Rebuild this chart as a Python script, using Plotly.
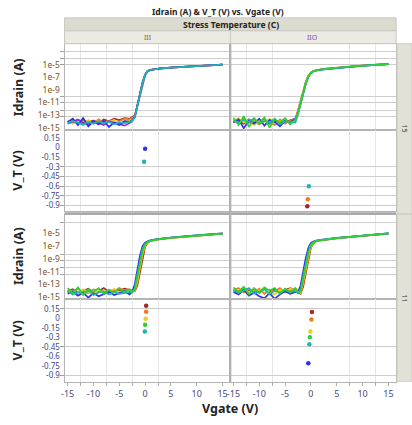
import plotly.graph_objects as go

W, H = 412, 425

# ---------------- data ----------------
vgate = [-15, -14, -13, -12, -11, -10, -9, -8, -7, -6, -5, -4, -3,
         -2.5, -2, -1.5, -1, -0.5, 0, 0.5, 1, 2, 3, 5, 8, 11, 15]

# log10(Idrain [A]), per panel / per colour
# Stress "15", temperature "III"
tl_red    = [-14.0,-14.3,-13.8,-14.2,-14.0,-13.9,-14.3,-13.7,-14.0,-13.6,-13.8,-13.5,-13.6,-13.4,-13.1,-11.6,-9.8,-8.0,-6.7,-6.05,-5.87,-5.73,-5.63,-5.49,-5.33,-5.16,-5.01]
tl_orange = [-14.2,-13.9,-14.4,-13.8,-14.1,-14.3,-13.7,-14.2,-13.9,-14.4,-14.0,-13.6,-13.7,-13.5,-13.2,-11.5,-9.7,-7.9,-6.65,-6.02,-5.86,-5.72,-5.62,-5.48,-5.32,-5.15,-5.0]
tl_yellow = [-13.9,-14.4,-14.0,-14.5,-13.8,-14.2,-14.0,-14.4,-14.1,-13.8,-14.3,-14.0,-13.9,-13.7,-13.3,-11.7,-9.8,-8.0,-6.7,-6.05,-5.88,-5.74,-5.63,-5.49,-5.33,-5.16,-5.02]
tl_purple = [-14.4,-14.1,-13.7,-14.3,-14.5,-13.9,-14.2,-14.6,-14.0,-14.2,-14.5,-14.7,-14.3,-14.0,-13.3,-11.45,-9.65,-7.9,-6.62,-6.02,-5.86,-5.72,-5.62,-5.48,-5.32,-5.15,-5.0]
tl_blue   = [-14.1,-13.6,-14.6,-13.5,-14.8,-14.0,-14.5,-13.9,-14.9,-14.2,-14.6,-14.0,-14.1,-13.8,-13.3,-11.4,-9.6,-7.85,-6.6,-6.0,-5.85,-5.71,-5.61,-5.47,-5.31,-5.14,-4.99]
tl_teal   = [-14.3,-14.0,-14.2,-14.6,-14.1,-14.4,-14.0,-14.3,-14.1,-14.5,-14.2,-14.3,-14.1,-13.9,-13.4,-11.5,-9.7,-7.9,-6.65,-6.03,-5.86,-5.72,-5.62,-5.48,-5.32,-5.15,-5.0]

# Stress "15", temperature "IIO"
tr_red    = [-14.1,-13.9,-14.4,-13.7,-14.2,-14.1,-13.7,-14.4,-13.9,-14.3,-14.1,-13.8,-13.6,-12.3,-10.7,-9.1,-7.8,-6.78,-6.27,-6.03,-5.9,-5.76,-5.66,-5.49,-5.29,-5.09,-4.91]
tr_orange = [-13.8,-14.1,-13.6,-14.3,-14.0,-14.5,-13.8,-14.2,-14.6,-13.7,-14.4,-13.9,-13.7,-12.4,-10.8,-9.2,-7.85,-6.8,-6.28,-6.04,-5.91,-5.77,-5.67,-5.5,-5.3,-5.1,-4.92]
tr_yellow = [-14.0,-13.5,-14.2,-13.8,-14.6,-13.9,-14.1,-13.6,-14.3,-14.0,-13.7,-14.4,-13.8,-12.5,-10.9,-9.3,-7.9,-6.82,-6.29,-6.05,-5.92,-5.78,-5.68,-5.5,-5.3,-5.1,-4.92]
tr_blue   = [-14.2,-13.7,-15.1,-13.9,-14.4,-13.6,-14.7,-13.8,-14.1,-14.8,-13.9,-14.2,-13.6,-12.8,-11.2,-9.6,-8.1,-6.95,-6.35,-6.08,-5.94,-5.8,-5.7,-5.52,-5.32,-5.12,-4.94]
tr_teal   = [-13.9,-14.3,-13.8,-14.1,-13.5,-14.4,-14.0,-14.2,-13.6,-14.5,-14.0,-14.1,-14.2,-12.9,-11.2,-9.6,-8.1,-6.95,-6.35,-6.08,-5.94,-5.8,-5.7,-5.52,-5.32,-5.12,-4.93]
tr_green  = [-13.5,-14.6,-13.2,-14.9,-13.6,-14.3,-13.4,-15.0,-13.7,-14.2,-13.5,-14.5,-13.7,-12.7,-11.1,-9.5,-8.05,-6.9,-6.33,-6.07,-5.93,-5.79,-5.69,-5.51,-5.31,-5.11,-4.93]

# Stress "11", temperature "III"
bl_red    = [-14.2,-13.8,-14.4,-14.0,-13.7,-14.3,-14.1,-13.6,-14.2,-13.9,-14.0,-13.7,-13.9,-14.1,-14.1,-13.2,-11.0,-8.8,-7.1,-6.5,-6.22,-6.03,-5.89,-5.71,-5.51,-5.27,-5.06]
bl_orange = [-13.9,-14.3,-13.7,-14.2,-14.4,-13.8,-14.0,-14.3,-13.9,-14.1,-13.6,-14.0,-13.8,-14.0,-14.0,-12.8,-10.6,-8.4,-6.95,-6.45,-6.2,-6.02,-5.88,-5.7,-5.5,-5.26,-5.05]
bl_yellow = [-14.4,-14.0,-14.6,-13.8,-14.2,-14.5,-13.9,-14.1,-14.4,-13.7,-14.2,-14.4,-14.1,-14.2,-14.0,-12.4,-10.2,-8.1,-6.85,-6.4,-6.18,-6.01,-5.87,-5.7,-5.5,-5.26,-5.05]
bl_blue   = [-14.5,-14.1,-14.8,-14.3,-15.1,-14.4,-14.9,-14.6,-14.2,-14.7,-14.4,-14.1,-14.6,-14.2,-13.0,-10.6,-8.5,-7.0,-6.45,-6.25,-6.1,-5.95,-5.82,-5.65,-5.45,-5.22,-5.02]
bl_teal   = [-14.1,-14.6,-14.2,-14.5,-14.0,-14.7,-14.3,-14.1,-14.6,-14.2,-14.5,-14.3,-14.2,-14.3,-13.6,-11.4,-9.2,-7.4,-6.6,-6.3,-6.13,-5.97,-5.84,-5.67,-5.47,-5.23,-5.03]
bl_green  = [-13.6,-14.4,-13.5,-14.7,-13.8,-14.2,-13.6,-14.5,-13.9,-14.3,-13.7,-14.2,-13.8,-14.2,-13.9,-12.0,-9.8,-7.8,-6.75,-6.35,-6.16,-6.0,-5.86,-5.69,-5.49,-5.25,-5.04]

# Stress "11", temperature "IIO"
br_red    = [-13.8,-14.2,-13.6,-14.0,-13.9,-14.3,-13.7,-14.1,-13.8,-14.4,-13.9,-13.6,-14.0,-14.2,-14.5,-13.4,-11.3,-9.1,-7.25,-6.58,-6.28,-6.1,-5.97,-5.78,-5.56,-5.3,-5.05]
br_orange = [-14.0,-13.6,-14.3,-13.8,-14.2,-13.7,-14.5,-13.9,-14.1,-13.6,-14.3,-14.0,-13.7,-14.1,-14.4,-13.0,-10.9,-8.8,-7.1,-6.52,-6.25,-6.08,-5.95,-5.76,-5.54,-5.29,-5.04]
br_yellow = [-13.7,-14.1,-13.5,-14.4,-13.8,-14.0,-13.6,-14.3,-14.6,-13.9,-14.2,-13.7,-13.9,-14.0,-14.3,-12.6,-10.5,-8.5,-6.95,-6.46,-6.22,-6.07,-5.94,-5.75,-5.53,-5.28,-5.03]
br_blue   = [-14.2,-14.6,-13.9,-14.8,-14.3,-14.9,-15.2,-14.4,-15.3,-14.6,-14.1,-14.5,-14.2,-14.3,-13.2,-10.9,-8.9,-7.3,-6.5,-6.28,-6.15,-6.02,-5.9,-5.72,-5.5,-5.25,-5.0]
br_teal   = [-13.9,-14.4,-14.0,-13.6,-14.5,-14.1,-13.8,-14.6,-14.0,-14.3,-13.9,-14.2,-14.1,-14.4,-13.8,-11.7,-9.6,-7.8,-6.7,-6.35,-6.18,-6.04,-5.92,-5.74,-5.52,-5.26,-5.01]
br_green  = [-13.5,-14.2,-13.4,-14.6,-13.6,-14.4,-13.5,-14.0,-13.6,-14.5,-13.7,-14.3,-13.6,-14.2,-14.2,-12.2,-10.1,-8.2,-6.85,-6.42,-6.2,-6.06,-5.93,-5.75,-5.53,-5.27,-5.02]

# V_T points (Vgate position, V_T)
tl_vt_x = [0.0, -0.2];             tl_vt_y = [-0.02, -0.22];             tl_vt_c = ["blue", "teal"]
tr_vt_x = [-0.4, -0.6, -0.7];      tr_vt_y = [-0.60, -0.80, -0.91];      tr_vt_c = ["teal", "orange", "red"]
bl_vt_x = [0.2, 0.2, 0.1, 0.0, -0.05]
bl_vt_y = [0.197, 0.103, -0.007, -0.10, -0.21]
bl_vt_c = ["red", "orange", "yellow", "green", "teal"]
br_vt_x = [0.2, 0.1, -0.1, -0.2, -0.3, -0.5]
br_vt_y = [0.10, -0.02, -0.21, -0.30, -0.41, -0.71]
br_vt_c = ["red", "orange", "yellow", "green", "teal", "blue"]

idrain_ticks = [1e-5, 1e-7, 1e-9, 1e-11, 1e-13, 1e-15]
idrain_ticktext = ["1e-5", "1e-7", "1e-9", "1e-11", "1e-13", "1e-15"]
vt_ticks = [0.15, 0, -0.15, -0.3, -0.45, -0.6, -0.75, -0.9]
vt_ticktext = ["0.15", "0", "-0.15", "-0.3", "-0.45", "-0.6", "-0.75", "-0.9"]
x_ticks = [-15, -10, -5, 0, 5, 10, 15]
x_ticktext = ["-15", "-10", "-5", "0", "5", "10", "15"]
col_labels = ["III", "IIO"]
row_labels = ["15", "11"]

# ---------------- style ----------------
palette = {"red": "#a8282a", "orange": "#f07a1e", "yellow": "#e6d21a", "green": "#2fd02f",
           "teal": "#1fb3b3", "blue": "#2f2ff0", "purple": "#8a2fd6"}

panels = {
    1: [("red", tl_red), ("orange", tl_orange), ("yellow", tl_yellow), ("purple", tl_purple), ("blue", tl_blue), ("teal", tl_teal)],
    2: [("red", tr_red), ("orange", tr_orange), ("yellow", tr_yellow), ("blue", tr_blue), ("teal", tr_teal), ("green", tr_green)],
    5: [("red", bl_red), ("orange", bl_orange), ("yellow", bl_yellow), ("blue", bl_blue), ("teal", bl_teal), ("green", bl_green)],
    6: [("red", br_red), ("orange", br_orange), ("yellow", br_yellow), ("blue", br_blue), ("teal", br_teal), ("green", br_green)],
}
vt_panels = {3: (tl_vt_x, tl_vt_y, tl_vt_c), 4: (tr_vt_x, tr_vt_y, tr_vt_c),
             7: (bl_vt_x, bl_vt_y, bl_vt_c), 8: (br_vt_x, br_vt_y, br_vt_c)}

fig = go.Figure()

def ax(n):
    return ("x" if n == 1 else f"x{n}"), ("y" if n == 1 else f"y{n}")

for n, curves in panels.items():
    xa, ya = ax(n)
    for cname, logs in curves:
        assert len(logs) == len(vgate)
        fig.add_trace(go.Scatter(x=vgate, y=[10 ** v for v in logs], mode="lines",
                                 line=dict(color=palette[cname], width=1.7),
                                 xaxis=xa, yaxis=ya, showlegend=False, hoverinfo="skip"))
for n, (xs, ys, cs) in vt_panels.items():
    xa, ya = ax(n)
    fig.add_trace(go.Scatter(x=xs, y=ys, mode="markers",
                             marker=dict(color=[palette[c] for c in cs], size=4.5),
                             xaxis=xa, yaxis=ya, showlegend=False, hoverinfo="skip"))

def px_x(p):
    return p / W

def px_y(p):
    return 1 - p / H

xl = [px_x(62), px_x(229)]
xr = [px_x(229), px_x(396)]
rows_y = {1: [px_y(131), px_y(44)], 3: [px_y(213), px_y(131)],
          5: [px_y(301), px_y(217)], 7: [px_y(385), px_y(301)]}

FONT = "Noto Sans"
frame = "#b4b4b4"
layout = dict(width=W, height=H, margin=dict(l=0, r=0, t=0, b=0),
              paper_bgcolor="white", plot_bgcolor="white", showlegend=False)

grid_left = [-12.5, -7.5, -2.5, 2.5]
grid_right = [-12.5, -7.5, 7.5, 12.5]
idr_grid = {1: [10 ** -2.95, 10 ** -4.05, 10 ** -5, 10 ** -10.04, 10 ** -10.98, 10 ** -12.24, 10 ** -13.19],
            5: [10 ** -3.28, 10 ** -8.28, 10 ** -9.2, 10 ** -10.3, 10 ** -11.4]}
vt_grid = {3: [-0.3, -0.45, -0.6, -0.75, -0.9], 7: [0.15, -0.45, -0.9]}
idr_range = {1: [-15.4, -1.69], 5: [-15.3, -2.19]}
vt_range = {3: [-0.99, 0.27], 7: [-1.01, 0.307]}

for n in range(1, 9):
    base = n if n % 2 == 1 else n - 1
    left = (n % 2 == 1)
    xkey = "xaxis" if n == 1 else f"xaxis{n}"
    ykey = "yaxis" if n == 1 else f"yaxis{n}"
    xa, ya = ax(n)
    bottom = n in (7, 8)
    layout[xkey] = dict(domain=xl if left else xr, anchor=ya, range=[-15.6, 16.5],
                        showgrid=False, zeroline=False, showline=True, mirror=True,
                        linecolor=frame, linewidth=1,
                        tickmode="array", tickvals=x_ticks, ticktext=x_ticktext,
                        showticklabels=bottom,
                        ticks="outside" if bottom else "", ticklen=3, tickcolor="#b0b0b0",
                        tickfont=dict(family=FONT, size=9, color="#4a4a78"),
                        minor=dict(tickmode="array", tickvals=grid_left if left else grid_right,
                                   showgrid=True, gridcolor="#e6e6e6", gridwidth=1,
                                   ticks="outside" if bottom else "", ticklen=3, tickcolor="#b0b0b0"))
    ydict = dict(domain=rows_y[base], anchor=xa, showgrid=False, zeroline=False,
                 showline=True, mirror=True, linecolor=frame, linewidth=1,
                 showticklabels=left, ticks="", fixedrange=True)
    if base in (1, 5):
        ydict.update(type="log", range=idr_range[base], tickmode="array",
                     tickvals=idrain_ticks, ticktext=idrain_ticktext,
                     tickfont=dict(family=FONT, size=8.5, color="#7a5424"),
                     minor=dict(tickmode="array", tickvals=idr_grid[base], showgrid=True,
                                gridcolor="#cdcdcd", gridwidth=1,
                                ticks="outside" if left else "", ticklen=4, tickcolor="#a0a0a0"))
    else:
        ydict.update(range=vt_range[base], tickmode="array",
                     tickvals=vt_ticks, ticktext=vt_ticktext,
                     tickfont=dict(family=FONT, size=8, color="#454586"),
                     minor=dict(tickmode="array", tickvals=vt_grid[base], showgrid=True,
                                gridcolor="#cdcdcd", gridwidth=1,
                                ticks="outside" if left else "", ticklen=4, tickcolor="#a0a0a0"))
    ydict["ticklabelstandoff"] = 2
    layout[ykey] = ydict

shapes = []
# header bands
shapes.append(dict(type="rect", xref="paper", yref="paper", x0=px_x(62), x1=px_x(396),
                   y0=px_y(31), y1=px_y(18), fillcolor="#dcdbd0", line=dict(color="#c8c8c0", width=1)))
shapes.append(dict(type="rect", xref="paper", yref="paper", x0=px_x(62), x1=px_x(396),
                   y0=px_y(44), y1=px_y(31), fillcolor="#ebebe3", line=dict(color="#c8c8c0", width=1)))
shapes.append(dict(type="line", xref="paper", yref="paper", x0=px_x(229), x1=px_x(229),
                   y0=px_y(44), y1=px_y(31), line=dict(color="#c8c8c0", width=1)))
# right strip
shapes.append(dict(type="rect", xref="paper", yref="paper", x0=px_x(397), x1=px_x(412),
                   y0=px_y(215), y1=px_y(44), fillcolor="#e2e1d7", line=dict(color="#cfcfc6", width=1)))
shapes.append(dict(type="rect", xref="paper", yref="paper", x0=px_x(397), x1=px_x(412),
                   y0=px_y(384), y1=px_y(216), fillcolor="#e2e1d7", line=dict(color="#cfcfc6", width=1)))
# dividers
shapes.append(dict(type="line", xref="paper", yref="paper", x0=px_x(62), x1=px_x(396),
                   y0=px_y(215), y1=px_y(215), line=dict(color="#a8a8a8", width=2.5)))
shapes.append(dict(type="line", xref="paper", yref="paper", x0=px_x(229), x1=px_x(229),
                   y0=px_y(385), y1=px_y(44), line=dict(color="#b0b0b0", width=2)))
layout["shapes"] = shapes

ann = []
ann.append(dict(text="<b>Idrain (A) &amp; V_T (V) vs. Vgate (V)</b>", x=px_x(217), y=px_y(12),
                xref="paper", yref="paper", showarrow=False, xanchor="center", yanchor="middle",
                font=dict(family=FONT, size=8.5, color="#222")))
ann.append(dict(text="<b>Stress Temperature (C)</b>", x=px_x(230), y=px_y(25),
                xref="paper", yref="paper", showarrow=False, xanchor="center", yanchor="middle",
                font=dict(family=FONT, size=8.5, color="#222")))
for lab, cx, col in zip(col_labels, [146, 312], ["#7a6030", "#7050a0"]):
    ann.append(dict(text=lab, x=px_x(cx), y=px_y(37.5), xref="paper", yref="paper",
                    showarrow=False, xanchor="center", yanchor="middle",
                    font=dict(family=FONT, size=7, color=col)))
for lab, cy in zip(row_labels, [129, 300]):
    ann.append(dict(text=lab, x=px_x(404.5), y=px_y(cy), xref="paper", yref="paper",
                    showarrow=False, xanchor="center", yanchor="middle", textangle=90,
                    font=dict(family=FONT, size=7, color="#333")))
for lab, cy in [("Idrain (A)", 88), ("V_T (V)", 172), ("Idrain (A)", 258), ("V_T (V)", 343)]:
    ann.append(dict(text=f"<b>{lab}</b>", x=px_x(15), y=px_y(cy), xref="paper", yref="paper",
                    showarrow=False, xanchor="center", yanchor="middle", textangle=-90,
                    font=dict(family=FONT, size=12.5, color="#222")))
ann.append(dict(text="<b>Vgate (V)</b>", x=px_x(229), y=px_y(411), xref="paper", yref="paper",
                showarrow=False, xanchor="center", yanchor="middle",
                font=dict(family=FONT, size=12.5, color="#222")))
layout["annotations"] = ann

fig.update_layout(**layout)
fig.write_html("out.html")
